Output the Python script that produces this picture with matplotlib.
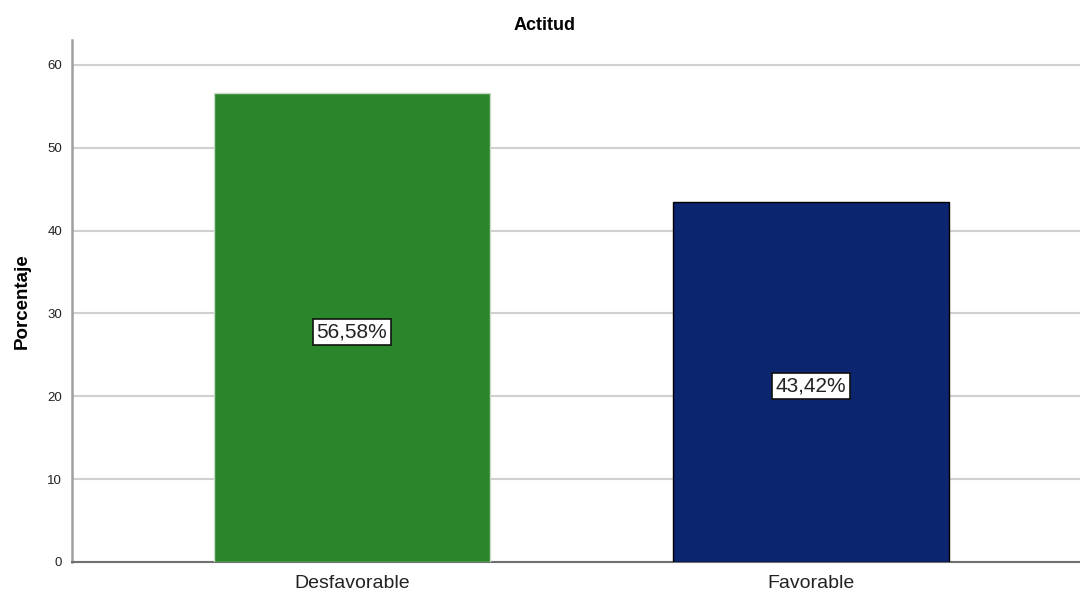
import matplotlib
matplotlib.use("Agg")
import matplotlib.pyplot as plt

categories = ["Desfavorable", "Favorable"]
percentages = [56.58, 43.42]
bar_colors = ["#2a862a", "#0b266e"]
edge_colors = ["#c8dcc8", "#000000"]
yticks = [0, 10, 20, 30, 40, 50, 60]

plt.rcParams["font.family"] = ["Liberation Sans", "DejaVu Sans"]

fig = plt.figure(figsize=(10.8, 5.92), dpi=100)
ax = fig.add_axes([72 / 1080, 1 - 562 / 592, 1 - 72 / 1080, (562 - 40) / 592])

x = list(range(len(categories)))
ax.bar(x, percentages, width=0.6, color=bar_colors, edgecolor=edge_colors,
       linewidth=1.0, zorder=3)

for xi, v in zip(x, percentages):
    ax.annotate(f"{v:.2f}%".replace(".", ","), xy=(xi, v / 2),
                xytext=(0, -3), textcoords="offset points",
                ha="center", va="center", fontsize=15, color="#222222",
                zorder=4,
                bbox=dict(boxstyle="square,pad=0.17", facecolor="white",
                          edgecolor="#111111", linewidth=1.2))

ax.set_xlim(-0.61, 1.586)
ax.set_ylim(0, 63)
ax.set_yticks(yticks)
ax.set_xticks(x)
ax.set_xticklabels(categories, fontsize=14, color="#222222")
ax.tick_params(axis="y", length=0, labelsize=9.5, pad=7, colors="#222222")
ax.tick_params(axis="x", length=0, pad=9)

ax.grid(axis="y", color="#d0d0d0", linewidth=1.5, zorder=0)
ax.set_axisbelow(True)

for side in ["top", "right"]:
    ax.spines[side].set_visible(False)
ax.spines["left"].set_color("#a0a0a0")
ax.spines["left"].set_linewidth(1.8)
ax.spines["bottom"].set_color("#707070")
ax.spines["bottom"].set_linewidth(1.5)

ax.set_ylabel("Porcentaje", fontsize=13.5, fontweight="bold", labelpad=12)
fig.text(545 / 1080, 1 - 25 / 592, "Actitud", ha="center", va="center",
         fontsize=13, fontweight="bold")

fig.savefig("out.png", dpi=100)
